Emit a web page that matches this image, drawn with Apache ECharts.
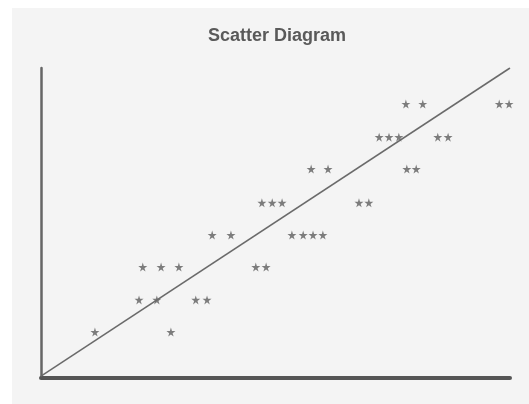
<!DOCTYPE html>
<html>
<head>
<meta charset="utf-8">
<script src="https://cdn.jsdelivr.net/npm/echarts@6/dist/echarts.min.js"></script>
<style>
html,body{margin:0;padding:0;background:#fff;}
#c{width:529px;height:404px;}
</style>
</head>
<body>
<div id="c"></div>
<script>
const titleText = 'Scatter Diagram';
const xValues = [77.8, 81.4, 97.7, 99.8,
  72.1, 74.2, 76.3, 84.6, 86.8,
  57.6, 61.2, 78.0, 80.0,
  47.1, 49.3, 51.4, 67.8, 69.9,
  36.5, 40.5, 53.5, 55.9, 58.0, 60.1,
  21.7, 25.6, 29.4, 45.8, 48.0,
  20.9, 24.7, 33.0, 35.4,
  11.5, 27.7];
const yValues = [88.4, 88.4, 88.4, 88.4,
  77.7, 77.7, 77.7, 77.7, 77.7,
  67.4, 67.4, 67.4, 67.4,
  56.5, 56.5, 56.5, 56.5, 56.5,
  46.1, 46.1, 46.1, 46.1, 46.1, 46.1,
  35.8, 35.8, 35.8, 35.8, 35.8,
  25.2, 25.2, 25.2, 25.2,
  14.8, 14.8];
const trendX = [0, 100];
const trendY = [0.6, 100];

const points = xValues.map((x, i) => [x, yValues[i]]);
const trend = trendX.map((x, i) => [x, trendY[i]]);
const star = 'path://M50,0 L61,35 L98,35 L68,57 L79,91 L50,70 L21,91 L32,57 L2,35 L39,35 Z';

const chart = echarts.init(document.getElementById('c'), null, {renderer: 'canvas'});
chart.setOption({
  backgroundColor: '#ffffff',
  animation: false,
  graphic: [{
    type: 'rect', left: 12, top: 8, z: -10,
    shape: {width: 517, height: 396},
    style: {fill: '#f4f4f4'}
  }],
  title: {
    text: titleText, left: 203, top: 22,
    textStyle: {fontFamily: 'Liberation Sans, Arial, sans-serif', fontSize: 18, fontWeight: 'bold', color: '#5a5a5a'}
  },
  grid: {left: 41, right: 19, top: 68, bottom: 26},
  xAxis: {
    type: 'value', min: 0, max: 100,
    axisLine: {show: true, lineStyle: {color: '#555', width: 4}},
    axisTick: {show: false}, axisLabel: {show: false}, splitLine: {show: false}
  },
  yAxis: {
    type: 'value', min: 0, max: 100,
    axisLine: {show: true, lineStyle: {color: '#666', width: 2.5}},
    axisTick: {show: false}, axisLabel: {show: false}, splitLine: {show: false}
  },
  series: [{
    type: 'line', data: trend, symbol: 'none', silent: true,
    lineStyle: {color: '#6a6a6a', width: 1.5}
  }, {
    type: 'scatter', data: points, symbol: star, symbolSize: 9, clip: false,
    itemStyle: {color: '#5e5e5e'}
  }]
});
</script>
</body>
</html>
